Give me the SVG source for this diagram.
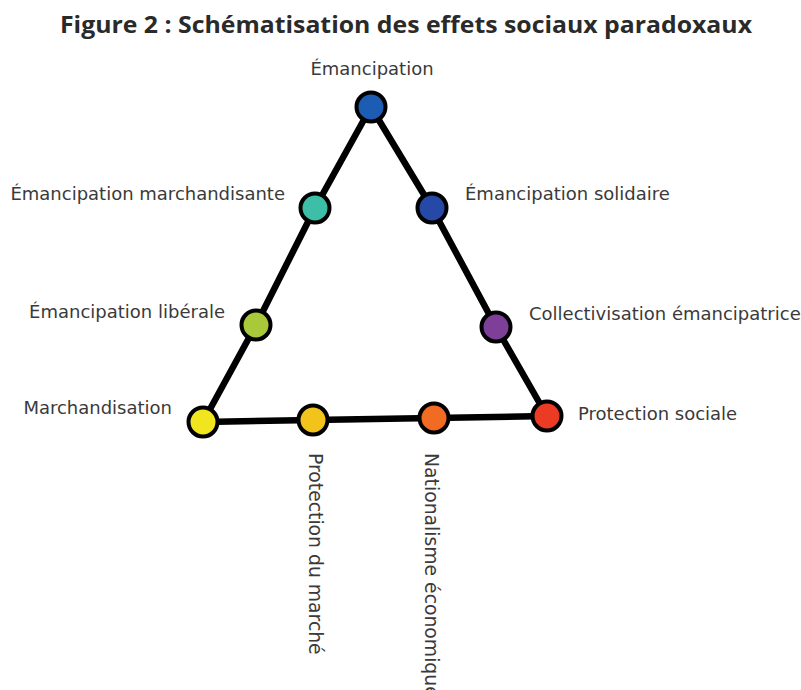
<svg xmlns="http://www.w3.org/2000/svg" width="801" height="690" viewBox="0 0 801 690">
<style>
.title{font-family:"Open Sans","Liberation Sans",sans-serif;font-weight:700;font-size:23px;fill:#2a2a2a}
.lbl{font-family:"DejaVu Sans","Liberation Sans",sans-serif;font-size:18px;fill:#3a3a3a}
.vlbl{font-size:18.8px}
.node circle{stroke:#000;stroke-width:4}
.edge{stroke:#000;stroke-width:6.5;stroke-linecap:round;fill:none}
</style>
<rect width="801" height="690" fill="#fff"/>
<text class="title" x="406" y="33" text-anchor="middle" textLength="692" lengthAdjust="spacingAndGlyphs">Figure 2 : Schématisation des effets sociaux paradoxaux</text>
<g id="connectors">
<line class="edge" x1="371" y1="107" x2="315" y2="208"/>
<line class="edge" x1="315" y1="208" x2="256" y2="325"/>
<line class="edge" x1="256" y1="325" x2="203" y2="422"/>
<line class="edge" x1="371" y1="107" x2="432" y2="208"/>
<line class="edge" x1="432" y1="208" x2="496" y2="327"/>
<line class="edge" x1="496" y1="327" x2="547" y2="416"/>
<line class="edge" x1="203" y1="422" x2="313" y2="420"/>
<line class="edge" x1="313" y1="420" x2="434" y2="418"/>
<line class="edge" x1="434" y1="418" x2="547" y2="416"/>
</g>
<g id="emancipation" class="node"><circle cx="371" cy="107" r="14.5" fill="#1c5db3"/><text class="lbl" x="372" y="75" text-anchor="middle">Émancipation</text></g>
<g id="emancipation-marchandisante" class="node"><circle cx="315" cy="208" r="14.5" fill="#3dbea6"/><text class="lbl" x="285" y="200" text-anchor="end">Émancipation marchandisante</text></g>
<g id="emancipation-liberale" class="node"><circle cx="256" cy="325" r="14.5" fill="#a9c83a"/><text class="lbl" x="225" y="318" text-anchor="end">Émancipation libérale</text></g>
<g id="marchandisation" class="node"><circle cx="203" cy="422" r="14.5" fill="#f1e51f"/><text class="lbl" x="172" y="414" text-anchor="end">Marchandisation</text></g>
<g id="emancipation-solidaire" class="node"><circle cx="432" cy="208" r="14.5" fill="#2648a6"/><text class="lbl" x="465" y="200">Émancipation solidaire</text></g>
<g id="collectivisation-emancipatrice" class="node"><circle cx="496" cy="327" r="14.5" fill="#7d3f98"/><text class="lbl" x="529" y="320">Collectivisation émancipatrice</text></g>
<g id="protection-sociale" class="node"><circle cx="547" cy="416" r="14.5" fill="#ec3b24"/><text class="lbl" x="578" y="420">Protection sociale</text></g>
<g id="protection-du-marche" class="node"><circle cx="313" cy="420" r="14.5" fill="#f2c31b"/><text class="lbl vlbl" transform="translate(309 453) rotate(90)">Protection du marché</text></g>
<g id="nationalisme-economique" class="node"><circle cx="434" cy="418" r="14.5" fill="#f26b22"/><text class="lbl vlbl" transform="translate(425 453) rotate(90)">Nationalisme économique</text></g>
</svg>
